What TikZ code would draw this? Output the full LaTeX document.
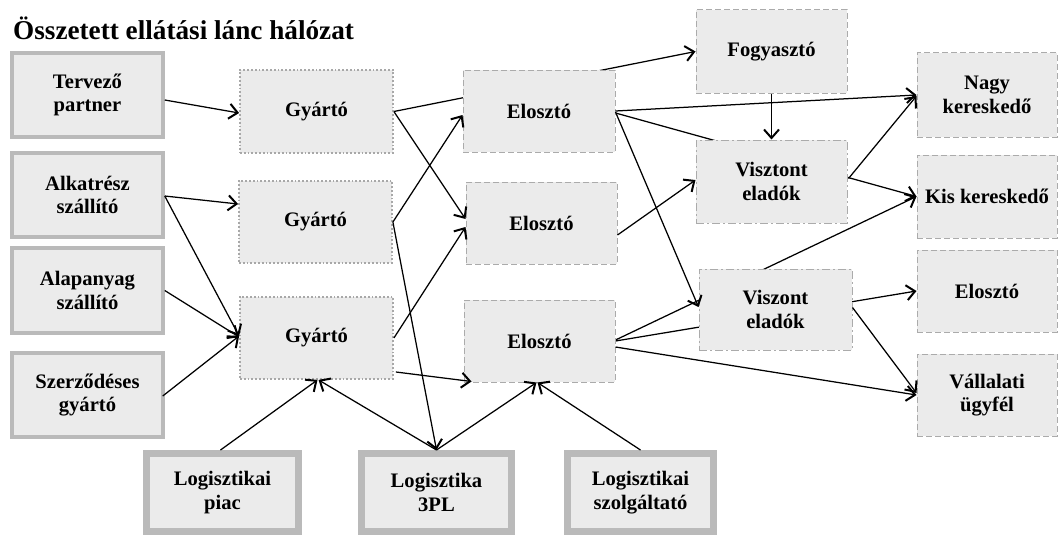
\documentclass[tikz,border=0pt]{standalone}
\usepackage{fontspec}
\setmainfont{Liberation Serif}
\usetikzlibrary{arrows.meta,calc,backgrounds}
\definecolor{boxfill}{HTML}{EBEBEB}
\definecolor{srcborder}{HTML}{BABABA}
\definecolor{dotborder}{HTML}{A8A8A8}
\definecolor{dashborder}{HTML}{ABABAB}
\begin{document}
\begin{tikzpicture}[x=1pt,y=-1pt,
  box/.style={fill=boxfill, text=black, align=center, inner sep=0pt,
    font=\bfseries\fontsize{20.6}{23.5}\selectfont},
  srcbox/.style={box, draw=srcborder, line width=3.5pt},
  logbox/.style={box, draw=srcborder, line width=7pt},
  mfgbox/.style={box, draw=dotborder, line width=1.8pt, dash pattern=on 1.8pt off 2pt},
  dashbox/.style={box, draw=dashborder, line width=1pt, dash pattern=on 6pt off 3pt},
  dashdotbox/.style={box, draw=dashborder, line width=1pt, dash pattern=on 8pt off 3pt on 2pt off 3pt},
  arr/.style={line width=1.25pt, -{Straight Barb[length=8.5pt,width=15pt,line width=2pt]}}
]
\useasboundingbox (0,0) rectangle (1059,535);

\node[anchor=base west, inner sep=0pt, font=\bfseries\fontsize{27.2}{30}\selectfont] (title) at (13,40) {Összetett ellátási lánc hálózat};

% source boxes
\node[srcbox, minimum width=151pt, minimum height=84pt] (tp) at (87.5,95) {Tervező\\partner};
\node[srcbox, minimum width=151pt, minimum height=84pt] (as) at (87.5,195) {Alkatrész\\szállító};
\node[srcbox, minimum width=151pt, minimum height=85pt] (ap) at (87.5,290.5) {Alapanyag\\szállító};
\node[srcbox, minimum width=151pt, minimum height=84pt] (sz) at (87.5,395) {Szerződéses\\gyártó};

% manufacturers
\node[mfgbox, minimum width=153pt, minimum height=83pt] (g1) at (316.5,111.5) {Gyártó};
\node[mfgbox, minimum width=153pt, minimum height=82pt] (g2) at (315.5,222) {Gyártó};
\node[mfgbox, minimum width=153pt, minimum height=82pt] (g3) at (316.5,338) {Gyártó};

% distributors
\node[dashbox, minimum width=152pt, minimum height=82pt] (e1) at (539,111) {Elosztó};
\node[dashbox, minimum width=151pt, minimum height=82pt] (e2) at (541.5,223) {Elosztó};
\node[dashbox, minimum width=151pt, minimum height=82pt] (e3) at (539.5,341) {Elosztó};

% consumer and resellers
\node[dashbox, minimum width=151pt, minimum height=83pt] (fo) at (771.5,51.5) {Fogyasztó};
\node[dashdotbox, minimum width=151pt, minimum height=83pt] (vt) at (771.5,181.5) {Visztont\\eladók};
\node[dashdotbox, minimum width=153pt, minimum height=81pt] (vs) at (775.5,309.5) {Viszont\\eladók};

% right column
\node[dashbox, minimum width=140pt, minimum height=84pt] (nk) at (987,95) {Nagy\\kereskedő};
\node[dashbox, minimum width=140pt, minimum height=83pt] (kk) at (987,196.5) {Kis kereskedő};
\node[dashbox, minimum width=140pt, minimum height=82pt] (er) at (987,291) {Elosztó};
\node[dashbox, minimum width=140pt, minimum height=82pt] (vu) at (987,395) {Vállalati\\ügyfél};

% logistics
\node[logbox, minimum width=152pt, minimum height=78pt] (lp) at (222.5,492.5) {Logisztikai\\piac};
\node[logbox, minimum width=150pt, minimum height=78pt] (l3) at (436.5,492.5) {Logisztika\\3PL};
\node[logbox, minimum width=146pt, minimum height=78pt] (ls) at (640.5,492.5) {Logisztikai\\szolgáltató};

% connectors passing behind boxes
\begin{pgfonlayer}{background}
\draw[arr] (g1.east) -- (fo.west);
\draw[arr] ($(e1.east)+(0,2)$) -- (kk.west);
\draw[arr] ($(e3.east)+(0,-1)$) -- (kk.west);
\draw[arr] (e3.east) -- (er.west);
\end{pgfonlayer}

% connectors
\draw[arr] ($(tp.east)+(0,5)$) -- ($(g1.west)+(0,1.5)$);
\draw[arr] ($(as.east)+(0,1)$) -- ($(g2.west)+(0,-18)$);
\draw[arr] ($(as.east)+(0,1)$) -- ($(g3.west)+(0,-2)$);
\draw[arr] (ap.east) -- ($(g3.west)+(0,-1)$);
\draw[arr] ($(sz.east)+(-2,1)$) -- ($(g3.west)+(0,-2)$);
\draw[arr] (g1.east) -- ($(e2.west)+(0,-4)$);
\draw[arr] (g2.east) -- ($(e1.west)+(0,4)$);
\draw[arr] (g2.east) -- (l3.north);
\draw[arr] (g3.east) -- ($(e2.west)+(0,4)$);
\draw[arr] ($(g3.east)+(2,34)$) -- ($(e3.south west)+(8,-1)$);
\draw[arr] ($(lp.north)+(-2,0)$) -- ($(g3.south)+(1,0)$);
\draw[arr] (l3.north) -- ($(g3.south)+(2,0)$);
\draw[arr] (l3.north) -- ($(e3.south)+(-3,0)$);
\draw[arr] (ls.north) -- ($(e3.south)+(-2,0)$);
\draw[arr] (e1.east) -- (nk.west);
\draw[arr] ($(e1.east)+(0,1)$) -- ($(vs.west)+(0,-2.5)$);
\draw[arr] ($(e2.east)+(0,12)$) -- ($(vt.west)+(0,-1.5)$);
\draw[arr] (fo.south) -- (vt.north);
\draw[arr] ($(vt.east)+(1,-3)$) -- ($(nk.west)+(0,1)$);
\draw[arr] ($(e3.east)+(0,6)$) -- (vu.west);
\draw[arr] ($(vs.east)+(0,-2)$) -- ($(vu.west)+(0,-2)$);
\end{tikzpicture}
\end{document}
